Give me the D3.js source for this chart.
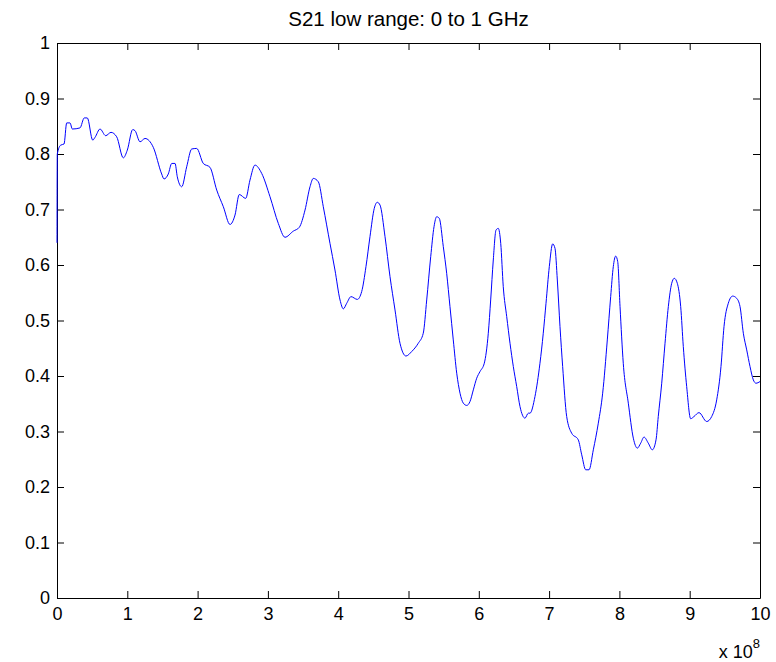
<!DOCTYPE html>
<html>
<head>
<meta charset="utf-8">
<script src="https://cdn.jsdelivr.net/npm/d3@7"></script>
<style>
  html, body { margin: 0; padding: 0; background: #fff; }
  svg { display: block; font-family: "Liberation Sans", Arial, Helvetica, sans-serif; }
</style>
</head>
<body>
<svg id="chart" width="776" height="662"></svg>
<script>
// Frequency in units of 10^8 Hz
const freq = [
  0, 0.004, 0.053, 0.10, 0.138, 0.185, 0.218, 0.327, 0.388, 0.431,
  0.508, 0.541, 0.612, 0.693, 0.768, 0.849, 0.943, 1.000, 1.077, 1.110,
  1.181, 1.252, 1.370, 1.489, 1.522, 1.583, 1.632, 1.679, 1.711, 1.774,
  1.845, 1.916, 1.987, 2.081, 2.176, 2.272, 2.366, 2.461, 2.532, 2.593,
  2.684, 2.745, 2.816, 2.912, 3.030, 3.148, 3.243, 3.361, 3.447, 3.528,
  3.599, 3.646, 3.717, 3.788, 3.883, 3.954, 4.026, 4.073, 4.121, 4.182,
  4.272, 4.334, 4.395, 4.452, 4.513, 4.556, 4.595, 4.666, 4.737, 4.808,
  4.879, 4.964, 5.045, 5.139, 5.210, 5.259, 5.316, 5.363, 5.401, 5.438,
  5.495, 5.543, 5.590, 5.637, 5.686, 5.733, 5.780, 5.828, 5.875, 5.922,
  5.970, 6.017, 6.078, 6.135, 6.169, 6.206, 6.245, 6.277, 6.312, 6.348,
  6.397, 6.444, 6.491, 6.539, 6.586, 6.657, 6.704, 6.728, 6.799, 6.870,
  6.917, 6.956, 7.003, 7.051, 7.084, 7.117, 7.155, 7.193, 7.250, 7.321,
  7.415, 7.464, 7.521, 7.568, 7.629, 7.700, 7.762, 7.828, 7.876, 7.913,
  7.947, 7.976, 8.009, 8.055, 8.127, 8.198, 8.255, 8.303, 8.350, 8.411,
  8.468, 8.521, 8.553, 8.602, 8.649, 8.696, 8.744, 8.781, 8.824, 8.872,
  8.909, 8.957, 9.014, 9.061, 9.132, 9.242, 9.313, 9.384, 9.445, 9.488,
  9.549, 9.611, 9.668, 9.716, 9.763, 9.811, 9.858, 9.905, 9.943, 10.0
];

// |S21| magnitude at each frequency
const s21 = [
  0.640, 0.800, 0.816, 0.818, 0.856, 0.856, 0.845, 0.847, 0.865, 0.865,
  0.825, 0.830, 0.845, 0.833, 0.839, 0.831, 0.793, 0.807, 0.844, 0.842,
  0.822, 0.828, 0.812, 0.764, 0.755, 0.764, 0.783, 0.783, 0.759, 0.741,
  0.777, 0.809, 0.810, 0.783, 0.776, 0.735, 0.705, 0.673, 0.690, 0.727,
  0.720, 0.753, 0.780, 0.765, 0.723, 0.675, 0.650, 0.661, 0.668, 0.699,
  0.741, 0.756, 0.750, 0.705, 0.639, 0.591, 0.537, 0.521, 0.531, 0.543,
  0.538, 0.552, 0.597, 0.651, 0.702, 0.713, 0.708, 0.651, 0.579, 0.519,
  0.459, 0.436, 0.444, 0.459, 0.477, 0.537, 0.615, 0.669, 0.687, 0.684,
  0.633, 0.585, 0.525, 0.465, 0.405, 0.369, 0.351, 0.347, 0.354, 0.375,
  0.396, 0.408, 0.423, 0.477, 0.537, 0.609, 0.663, 0.666, 0.639, 0.561,
  0.507, 0.459, 0.417, 0.381, 0.345, 0.324, 0.333, 0.333, 0.363, 0.423,
  0.477, 0.531, 0.597, 0.638, 0.630, 0.573, 0.489, 0.417, 0.327, 0.297,
  0.285, 0.258, 0.231, 0.231, 0.267, 0.315, 0.369, 0.465, 0.543, 0.597,
  0.616, 0.606, 0.525, 0.423, 0.351, 0.288, 0.270, 0.279, 0.290, 0.279,
  0.267, 0.285, 0.327, 0.387, 0.459, 0.525, 0.567, 0.576, 0.567, 0.525,
  0.453, 0.381, 0.323, 0.327, 0.334, 0.318, 0.327, 0.357, 0.417, 0.489,
  0.531, 0.544, 0.540, 0.525, 0.477, 0.447, 0.417, 0.393, 0.387, 0.390
];

const xTicks = [0, 1, 2, 3, 4, 5, 6, 7, 8, 9, 10];
const yTicks = [0, 0.1, 0.2, 0.3, 0.4, 0.5, 0.6, 0.7, 0.8, 0.9, 1];
const yTickLabels = ["0", "0.1", "0.2", "0.3", "0.4", "0.5", "0.6", "0.7", "0.8", "0.9", "1"];
const titleText = "S21 low range: 0 to 1 GHz";

const margin = { left: 57, right: 16, top: 43, bottom: 64 };
const W = 776, H = 662;
const plotW = W - margin.left - margin.right;
const plotH = H - margin.top - margin.bottom;

const svg = d3.select("#chart");
svg.append("rect").attr("width", W).attr("height", H).attr("fill", "#fff");

const x = d3.scaleLinear().domain([0, 10]).range([0, plotW]);
const y = d3.scaleLinear().domain([0, 1]).range([plotH, 0]);

const g = svg.append("g").attr("transform", `translate(${margin.left},${margin.top})`);

const tickLen = 7;
const fontSize = 18;

// Bottom axis with labels
const axBottom = g.append("g")
  .attr("transform", `translate(0,${plotH})`)
  .call(d3.axisBottom(x).tickValues(xTicks).tickFormat(d3.format("d"))
    .tickSizeInner(-tickLen).tickSizeOuter(0).tickPadding(9));

// Left axis with labels
const axLeft = g.append("g")
  .call(d3.axisLeft(y).tickValues(yTicks).tickFormat((d, i) => yTickLabels[i])
    .tickSizeInner(-tickLen).tickSizeOuter(0).tickPadding(7));

// Top and right axes: ticks only, closing the box
const axTop = g.append("g")
  .call(d3.axisTop(x).tickValues(xTicks).tickFormat("")
    .tickSizeInner(-tickLen).tickSizeOuter(0));
const axRight = g.append("g")
  .attr("transform", `translate(${plotW},0)`)
  .call(d3.axisRight(y).tickValues(yTicks).tickFormat("")
    .tickSizeInner(-tickLen).tickSizeOuter(0));

[axBottom, axLeft, axTop, axRight].forEach(a => {
  a.selectAll("path.domain").attr("stroke", "#000").attr("stroke-width", 1);
  a.selectAll(".tick line").attr("stroke", "#000").attr("stroke-width", 1);
  a.selectAll(".tick text")
    .attr("fill", "#000")
    .style("font-size", fontSize + "px")
    .style("font-family", "'Liberation Sans', Arial, sans-serif");
});

// Data trace
const pts = freq.map((f, i) => [f, s21[i]]);
const line = d3.line()
  .curve(d3.curveMonotoneX)
  .x(d => x(d[0]))
  .y(d => y(d[1]));
g.append("path")
  .datum(pts)
  .attr("fill", "none")
  .attr("stroke", "#0000ff")
  .attr("stroke-width", 1)
  .attr("stroke-linejoin", "round")
  .attr("d", line);

// Title
svg.append("text")
  .attr("x", margin.left + plotW / 2)
  .attr("y", 26)
  .attr("text-anchor", "middle")
  .style("font-size", "20.5px")
  .attr("fill", "#000")
  .text(titleText);

// Exponent label for the frequency axis
const expLabel = svg.append("text")
  .attr("x", margin.left + plotW)
  .attr("y", 658)
  .attr("text-anchor", "end")
  .style("font-size", fontSize + "px")
  .attr("fill", "#000");
expLabel.append("tspan").text("x 10");
expLabel.append("tspan")
  .attr("dy", -10)
  .style("font-size", "13px")
  .text("8");
</script>
</body>
</html>
